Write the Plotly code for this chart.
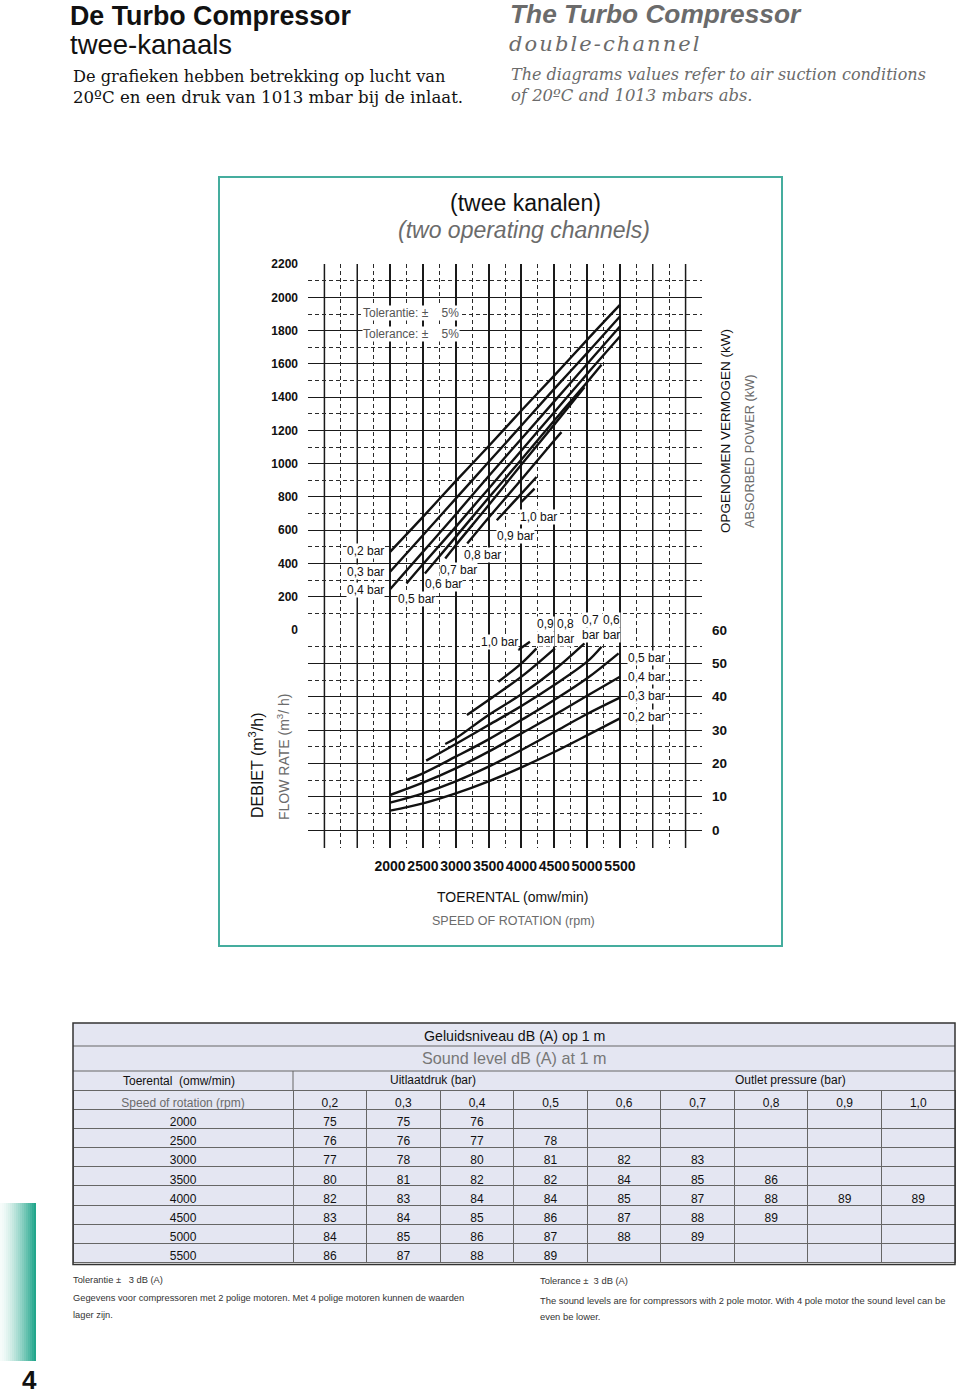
import plotly.graph_objects as go

# ---------------- data ----------------
rpm_tickvals = [2000, 2500, 3000, 3500, 4000, 4500, 5000, 5500]
rpm_ticktext = ["2000", "2500", "3000", "3500", "4000", "4500", "5000", "5500"]
rpm_extra_grid = [1000, 1500, 6000, 6500]
rpm_minor_grid = [1250, 1750, 2250, 2750, 3250, 3750, 4250, 4750, 5250, 5750, 6250]
flow_tickvals = [0, 200, 400, 600, 800, 1000, 1200, 1400, 1600, 1800, 2000, 2200]
flow_minor_grid = [100, 300, 500, 700, 900, 1100, 1300, 1500, 1700, 1900, 2100]
power_tickvals = [0, 10, 20, 30, 40, 50, 60]
power_minor_grid = [5, 15, 25, 35, 45, 55]

# flow rate (m3/h) per outlet pressure
flow_rpm_02 = [2000, 2500, 3000, 3500, 4000, 4500, 5000, 5500]
flow_02 = [470, 680, 895, 1105, 1320, 1530, 1745, 1955]
flow_rpm_03 = [2000, 2500, 3000, 3500, 4000, 4500, 5000, 5500]
flow_03 = [350, 570, 790, 1010, 1230, 1450, 1665, 1885]
flow_rpm_04 = [2000, 2500, 3000, 3500, 4000, 4500, 5000, 5500]
flow_04 = [245, 470, 695, 925, 1150, 1375, 1600, 1825]
flow_rpm_05 = [2250, 2500, 3000, 3500, 4000, 4500, 5000, 5500]
flow_05 = [280, 395, 620, 850, 1080, 1310, 1540, 1765]
flow_rpm_06 = [2530, 3000, 3500, 4000, 4500, 5000, 5220]
flow_06 = [340, 560, 795, 1025, 1260, 1490, 1595]
flow_rpm_07 = [2840, 3000, 3500, 4000, 4500, 4960]
flow_07 = [430, 510, 750, 995, 1235, 1460]
flow_rpm_08 = [3175, 3500, 4000, 4500, 4610]
flow_08 = [520, 675, 905, 1140, 1190]
flow_rpm_09 = [3625, 4000, 4230]
flow_09 = [660, 820, 920]
flow_rpm_10 = [4000, 4200]
flow_10 = [770, 850]

# absorbed power (kW) per outlet pressure
pow_rpm_02 = [2000, 2500, 3000, 3500, 4000, 4500, 5000, 5500]
pow_02 = [5.8, 8.0, 11.0, 14.6, 18.8, 23.4, 28.4, 33.5]
pow_rpm_03 = [2000, 2500, 3000, 3500, 4000, 4500, 5000, 5500]
pow_03 = [8.2, 11.0, 14.6, 19.0, 24.0, 29.4, 34.8, 39.7]
pow_rpm_04 = [2000, 2500, 3000, 3500, 4000, 4500, 5000, 5500]
pow_04 = [10.5, 14.2, 18.5, 23.5, 29.0, 34.5, 40.3, 46.0]
pow_rpm_05 = [2250, 2500, 3000, 3500, 4000, 4500, 5000, 5480]
pow_05 = [15.0, 17.0, 22.0, 27.2, 33.0, 39.0, 45.5, 53.0]
pow_rpm_06 = [2550, 3000, 3500, 4000, 4500, 5000, 5220]
pow_06 = [20.8, 25.8, 31.5, 37.2, 43.5, 50.5, 55.0]
pow_rpm_07 = [2840, 3000, 3500, 4000, 4500, 4960]
pow_07 = [25.8, 27.5, 34.5, 40.7, 48.0, 56.0]
pow_rpm_08 = [3170, 3500, 4000, 4510]
pow_08 = [34.5, 39.0, 46.0, 54.5]
pow_rpm_09 = [3650, 4000, 4230]
pow_09 = [44.5, 50.0, 54.5]
pow_rpm_10 = [3950, 4130]
pow_10 = [54.0, 56.5]

# sound level table dB(A) at 1 m
table_pressures = ["0,2", "0,3", "0,4", "0,5", "0,6", "0,7", "0,8", "0,9", "1,0"]
table_speeds = [2000, 2500, 3000, 3500, 4000, 4500, 5000, 5500]
sound_02 = [75, 76, 77, 80, 82, 83, 84, 86]
sound_03 = [75, 76, 78, 81, 83, 84, 85, 87]
sound_04 = [76, 77, 80, 82, 84, 85, 86, 88]
sound_05 = [None, 78, 81, 82, 84, 86, 87, 89]
sound_06 = [None, None, 82, 84, 85, 87, 88, None]
sound_07 = [None, None, 83, 85, 87, 88, 89, None]
sound_08 = [None, None, None, 86, 88, 89, None, None]
sound_09 = [None, None, None, None, 89, None, None, None]
sound_10 = [None, None, None, None, 89, None, None, None]

# ---------------- helpers ----------------
W, H = 960, 1396


def X(p):
    return p / W


def Y(p):
    return 1 - p / H


SANS = "Liberation Sans, Arial, sans-serif"
SERIF = "DejaVu Serif, serif"
GRAY = "#6b6b6b"
NB = "\u00a0"

fig = go.Figure()

flow_series = [
    (flow_rpm_02, flow_02), (flow_rpm_03, flow_03), (flow_rpm_04, flow_04),
    (flow_rpm_05, flow_05), (flow_rpm_06, flow_06), (flow_rpm_07, flow_07),
    (flow_rpm_08, flow_08), (flow_rpm_09, flow_09), (flow_rpm_10, flow_10),
]
power_series = [
    (pow_rpm_02, pow_02), (pow_rpm_03, pow_03), (pow_rpm_04, pow_04),
    (pow_rpm_05, pow_05), (pow_rpm_06, pow_06), (pow_rpm_07, pow_07),
    (pow_rpm_08, pow_08), (pow_rpm_09, pow_09), (pow_rpm_10, pow_10),
]
for (xs, ys), name in zip(flow_series, table_pressures):
    fig.add_trace(go.Scatter(x=xs, y=ys, mode="lines", name=name + " bar",
                             line=dict(color="#111", width=2.4, shape="spline"),
                             xaxis="x", yaxis="y", showlegend=False, hoverinfo="skip"))
for (xs, ys), name in zip(power_series, table_pressures):
    fig.add_trace(go.Scatter(x=xs, y=ys, mode="lines", name=name + " bar",
                             line=dict(color="#111", width=2.4, shape="spline"),
                             xaxis="x", yaxis="y2", showlegend=False, hoverinfo="skip"))

# ---------------- sound table ----------------
def fmt(col):
    return ["" if v is None else str(v) for v in col]


table_cols = [[str(s) for s in table_speeds]] + [fmt(c) for c in
              [sound_02, sound_03, sound_04, sound_05, sound_06, sound_07, sound_08, sound_09, sound_10]]
TABLE_FILL = "#e4e6f2"
fig.add_trace(go.Table(
    domain=dict(x=[X(73), X(955)], y=[Y(1268), Y(1090)]),
    columnwidth=[220] + [73.5] * 9,
    header=dict(values=["Speed of rotation (rpm)"] + table_pressures,
                fill_color=TABLE_FILL, line=dict(color="#666", width=1),
                font=dict(family=SANS, size=12, color=[GRAY] + ["#111"] * 9),
                align="center", height=19),
    cells=dict(values=table_cols, fill_color=TABLE_FILL,
               line=dict(color="#666", width=1),
               font=dict(family=SANS, size=12, color="#111"),
               align="center", height=19.2),
))

# ---------------- annotations ----------------
ann = []


def txt(x, y, s, size, color="#111", family=SANS, xanchor="left", yanchor="middle",
        bg=None, angle=0, bold=False, italic=False):
    d = dict(x=X(x), y=Y(y), xref="paper", yref="paper", text=s, showarrow=False,
             font=dict(family=family, size=size, color=color,
                       weight="bold" if bold else "normal",
                       style="italic" if italic else "normal"),
             xanchor=xanchor, yanchor=yanchor, textangle=angle, borderpad=0)
    if bg:
        d["bgcolor"] = bg
    ann.append(d)


# page header
txt(69, 16, "De Turbo Compressor", 26.8, bold=True)
txt(69, 45, "twee-kanaals", 27.5)
txt(72, 76, "De grafieken hebben betrekking op lucht van", 16.2, family=SERIF)
txt(72, 97, "20ºC en een druk van 1013 mbar bij de inlaat.", 16.6, family=SERIF)
txt(509, 14, "The Turbo Compressor", 26.3, color=GRAY, bold=True, italic=True)
txt(508, 44, "\u200a".join("double-channel"), 21, color=GRAY, family=SERIF, italic=True)
txt(510, 74, "The diagrams values refer to air suction conditions", 16, color=GRAY, family=SERIF, italic=True)
txt(510, 95, "of 20ºC and 1013 mbars abs.", 16.4, color=GRAY, family=SERIF, italic=True)

# chart titles
txt(525, 203, "(twee kanalen)", 23, xanchor="center")
txt(524, 230, "(two operating channels)", 23, color=GRAY, italic=True, xanchor="center")
txt(512, 897, "TOERENTAL (omw/min)", 14, xanchor="center")
txt(513, 921, "SPEED OF ROTATION (rpm)", 12.5, color=GRAY, xanchor="center")
txt(256, 765, "DEBIET (m<sup>3</sup>/h)", 16, xanchor="center", angle=-90)
txt(283, 757, "FLOW RATE (m<sup>3</sup>/ h)", 14, color=GRAY, xanchor="center", angle=-90)
txt(725, 431, "OPGENOMEN VERMOGEN (kW)", 13.5, xanchor="center", angle=-90)
txt(750, 451, "ABSORBED POWER (kW)", 12.8, color=GRAY, xanchor="center", angle=-90)

# tolerance box
txt(362, 313, "Tolerantie: ±" + NB * 4 + "5%", 12, color="#555", bg="white")
txt(362, 334, "Tolerance: ±" + NB * 4 + "5%", 12, color="#555", bg="white")

# curve labels (flow)
for lx, ly, s in [(365, 551, "0,2 bar"), (365, 572, "0,3 bar"), (365, 590, "0,4 bar"),
                  (416, 599, "0,5 bar"), (443, 584, "0,6 bar"), (458, 570, "0,7 bar"),
                  (482, 555, "0,8 bar"), (515, 536, "0,9 bar"), (538, 517, "1,0 bar")]:
    txt(lx, ly, s, 12, xanchor="center", bg="white")
# curve labels (power)
for lx, ly, s in [(499, 642, "1,0 bar"), (646, 658, "0,5 bar"), (646, 677, "0,4 bar"),
                  (646, 696, "0,3 bar"), (646, 717, "0,2 bar")]:
    txt(lx, ly, s, 12, xanchor="center", bg="white")
for lx, ly_top, s in [(545, 624, "0,9"), (565, 624, "0,8"), (590, 620, "0,7"), (611, 620, "0,6")]:
    txt(lx, ly_top, s, 12, xanchor="center", bg="white")
    txt(lx, ly_top + 15, "bar", 12, xanchor="center", bg="white")

# table headers
txt(514, 1036, "Geluidsniveau dB (A) op 1 m", 14.2, xanchor="center")
txt(514, 1058, "Sound level dB (A) at 1 m", 16.2, color="#777", xanchor="center")
txt(179, 1081, "Toerental" + NB * 2 + "(omw/min)", 12, xanchor="center")
txt(433, 1080, "Uitlaatdruk (bar)", 12, xanchor="center")
txt(790, 1080, "Outlet pressure (bar)", 12, xanchor="center")

# footnotes
txt(72, 1280, "Tolerantie ±" + NB * 3 + "3 dB (A)", 9.3, color="#333")
txt(72, 1298, "Gegevens voor compressoren met 2 polige motoren. Met 4 polige motoren kunnen de waarden", 9.3, color="#333")
txt(72, 1315, "lager zijn.", 9.3, color="#333")
txt(539, 1280, "Tolerance ±" + NB * 2 + "3 dB (A)", 9.4, color="#333")
txt(539, 1300, "The sound levels are for compressors with 2 pole motor. With 4 pole motor the sound level can be", 9.4, color="#333")
txt(539, 1316, "even be lower.", 9.4, color="#333")

# page number
txt(29, 1396, "4", 26, xanchor="center", yanchor="bottom", bold=True)

# ---------------- shapes ----------------
shapes = []
# chart frame
shapes.append(dict(type="rect", xref="paper", yref="paper", x0=X(219), x1=X(782), y0=Y(946), y1=Y(177),
                   line=dict(color="#45ad9e", width=2), fillcolor="rgba(0,0,0,0)", layer="below"))
# unlabeled solid vertical grid lines of the chart
for gx in rpm_extra_grid:
    shapes.append(dict(type="line", xref="x", yref="paper", x0=gx, x1=gx, y0=Y(848), y1=Y(264),
                       line=dict(color="#1a1a1a", width=1.5), layer="below"))
# table top header rows
shapes.append(dict(type="rect", xref="paper", yref="paper", x0=X(73), x1=X(955), y0=Y(1090), y1=Y(1023),
                   line=dict(width=0), fillcolor=TABLE_FILL, layer="below"))
for yy in [1046, 1071]:
    shapes.append(dict(type="line", xref="paper", yref="paper", x0=X(73), x1=X(955), y0=Y(yy), y1=Y(yy),
                       line=dict(color="#666", width=1)))
shapes.append(dict(type="line", xref="paper", yref="paper", x0=X(293), x1=X(293), y0=Y(1071), y1=Y(1090),
                   line=dict(color="#666", width=1)))
shapes.append(dict(type="rect", xref="paper", yref="paper", x0=X(73), x1=X(955), y0=Y(1264.5), y1=Y(1023),
                   line=dict(color="#333", width=1.5), fillcolor="rgba(0,0,0,0)", layer="above"))
# green gradient tab
n = 18
c0 = (246, 252, 250)
c1 = (34, 166, 140)
for i in range(n):
    t = (i / (n - 1)) ** 1.4
    col = "rgb({},{},{})".format(*[int(round(a + (b - a) * t)) for a, b in zip(c0, c1)])
    shapes.append(dict(type="rect", xref="paper", yref="paper", x0=X(i * 2), x1=X(i * 2 + 2),
                       y0=Y(1361), y1=Y(1203), line=dict(width=0), fillcolor=col, layer="below"))

GRID = "#1a1a1a"
MINOR = dict(showgrid=True, gridcolor="#2a2a2a", gridwidth=1, griddash="4px,3px", ticks="")

fig.update_layout(
    width=W, height=H, margin=dict(l=0, r=0, t=0, b=0, autoexpand=False),
    paper_bgcolor="white", plot_bgcolor="white",
    showlegend=False,
    annotations=ann, shapes=shapes,
    xaxis=dict(domain=[X(308), X(702)], range=[750, 6750], anchor="y2",
               tickmode="array", tickvals=rpm_tickvals, ticktext=rpm_ticktext,
               showgrid=True, gridcolor=GRID, gridwidth=1.5, zeroline=False, showline=False,
               ticks="", ticklabelstandoff=8, tickangle=0, automargin=False,
               tickfont=dict(family=SANS, size=14, color="#111", weight="bold"),
               minor=dict(tickmode="array", tickvals=rpm_minor_grid, **MINOR)),
    yaxis=dict(domain=[Y(630), Y(264)], range=[0, 2201], anchor="x", side="left",
               tickmode="array", tickvals=flow_tickvals, automargin=False,
               showgrid=True, gridcolor=GRID, gridwidth=1.3, zeroline=False, showline=False,
               ticks="", ticklabelstandoff=9,
               tickfont=dict(family=SANS, size=12, color="#111", weight="bold"),
               minor=dict(tickmode="array", tickvals=flow_minor_grid, **MINOR)),
    yaxis2=dict(domain=[Y(848), Y(630)], range=[-5.4, 60], anchor="x", side="right",
                tickmode="array", tickvals=power_tickvals, automargin=False,
                showgrid=True, gridcolor=GRID, gridwidth=1.3, zeroline=False, showline=False,
                ticks="", ticklabelstandoff=9,
                tickfont=dict(family=SANS, size=13.5, color="#111", weight="bold"),
                minor=dict(tickmode="array", tickvals=power_minor_grid, **MINOR)),
)

fig.write_html("out.html",
               post_script="document.body.style.margin='0px';document.body.style.padding='0px';")
